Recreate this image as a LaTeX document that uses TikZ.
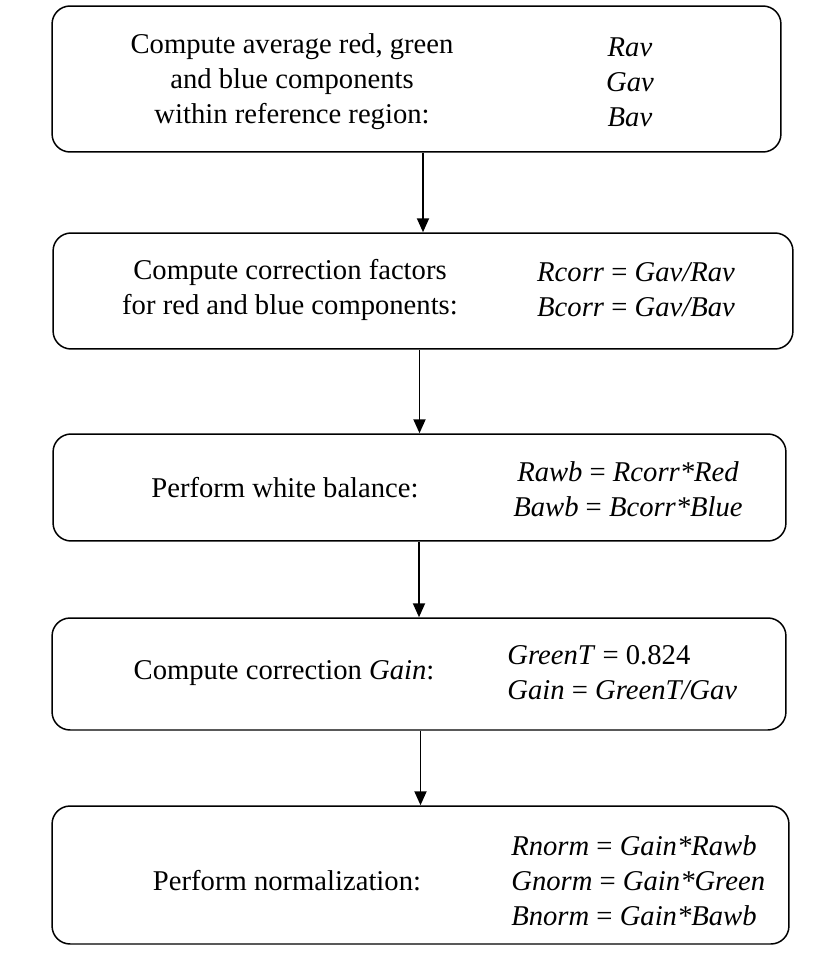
\documentclass[tikz,border=0pt]{standalone}
\usepackage{fontspec}
\setmainfont{Liberation Serif}
\usetikzlibrary{arrows.meta}
\begin{document}
\begin{tikzpicture}[x=0.02cm,y=-0.02cm,>={Triangle[length=0.28cm,width=0.24cm]},
 hop/.style={draw,rounded corners=0.36cm,line width=0.85pt,inner sep=0pt},
 chu/.style={align=center,inner sep=0pt,font=\fontsize{16.3pt}{19.9pt}\selectfont}]
 \useasboundingbox (0,0) rectangle (830,966);
 % boxes
 \path
 (416.5,79) node[hop,minimum width=14.58cm,minimum height=2.92cm] (b1) {}
 (423,291) node[hop,minimum width=14.80cm,minimum height=2.32cm] (b2) {}
 (419.5,487.5) node[hop,minimum width=14.66cm,minimum height=2.14cm] (b3) {}
 (419,674) node[hop,minimum width=14.68cm,minimum height=2.24cm] (b4) {}
 (420.5,875) node[hop,minimum width=14.74cm,minimum height=2.76cm] (b5) {};
 % left column
 \path
 (292,82) node[chu] (l1) {Compute average red, green\\and blue components\\within reference region:}
 (290,289.5) node[chu] (l2) {Compute correction factors\\for red and blue components:}
 (285,488) node[chu] (l3) {Perform white balance:}
 (284,673) node[chu] (l4) {Compute correction \textit{Gain}:}
 (287,881) node[chu] (l5) {Perform normalization:};
 % right column
 \path
 (630,82) node[chu] (r1) {\textit{Rav}\\\textit{Gav}\\\textit{Bav}}
 (636,289.5) node[chu] (r2) {\textit{Rcorr} = \textit{Gav/Rav}\\\textit{Bcorr} = \textit{Gav/Bav}}
 (628,489.5) node[chu] (r3) {\textit{Rawb} = \textit{Rcorr*Red}\\\textit{Bawb} = \textit{Bcorr*Blue}}
 (507,672.5) node[chu,align=left,anchor=west] (r4) {\textit{GreenT} = 0.824\\\textit{Gain} = \textit{GreenT/Gav}}
 (511,881) node[chu,align=left,anchor=west] (r5) {\textit{Rnorm} = \textit{Gain*Rawb}\\\textit{Gnorm} = \textit{Gain*Green}\\\textit{Bnorm} = \textit{Gain*Bawb}};
 \foreach \a/\b in {b1/b2,b2/b3,b3/b4,b4/b5}
 \draw[->,line width=1.1pt] (\a.south -| \b.north)--(\b.north);
\end{tikzpicture}
\end{document}
